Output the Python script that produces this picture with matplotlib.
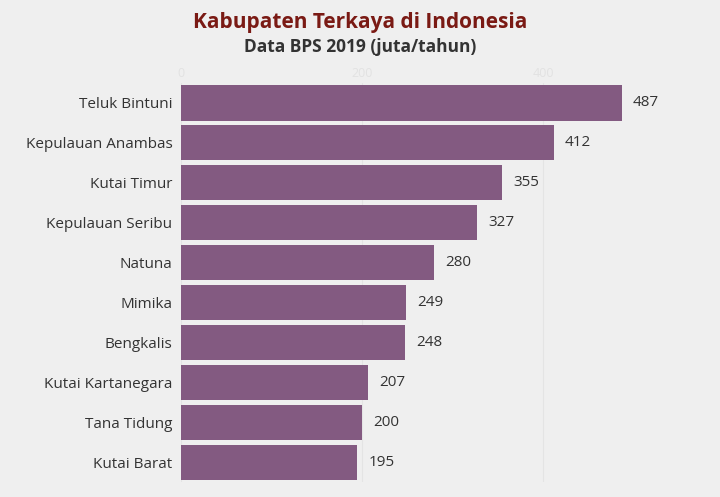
import matplotlib
matplotlib.use("Agg")
import matplotlib.pyplot as plt

categories = ["Teluk Bintuni", "Kepulauan Anambas", "Kutai Timur", "Kepulauan Seribu",
              "Natuna", "Mimika", "Bengkalis", "Kutai Kartanegara", "Tana Tidung", "Kutai Barat"]
values = [487, 412, 355, 327, 280, 249, 248, 207, 200, 195]
ticks = [0, 200, 400]

plt.rcParams['font.family'] = ['Open Sans', 'DejaVu Sans']
bg = "#efefef"
fig = plt.figure(figsize=(7.2, 4.97), dpi=100, facecolor=bg)
ax = fig.add_axes([0.251, 0.03, 0.749, 0.803], facecolor=bg)
y = list(range(len(categories)))
ax.barh(y, values, height=0.88, color="#835a81")
for yi, v in zip(y, values):
    ax.text(v + 12, yi, str(v), va="center", ha="left", fontsize=11, color="#333333")
ax.set_yticks(y)
ax.set_yticklabels(categories, fontsize=11, color="#333333")
ax.set_ylim(len(categories) - 0.5, -0.5)
ax.set_xlim(0, 595)
ax.set_xticks(ticks)
ax.xaxis.tick_top()
ax.tick_params(axis="x", colors="#e2e2e2", labelsize=9, length=0, pad=2)
ax.tick_params(axis="y", length=0, pad=6)
ax.grid(axis="x", color="#e4e4e4", linewidth=0.8)
ax.set_axisbelow(True)
for s in ax.spines.values():
    s.set_visible(False)
fig.text(0.5, 0.955, "Kabupaten Terkaya di Indonesia", ha="center", va="center",
         fontsize=15, fontweight="bold", color="#7a1a14")
fig.text(0.5, 0.905, "Data BPS 2019 (juta/tahun)", ha="center", va="center",
         fontsize=12.5, fontweight="bold", color="#333333")
fig.savefig("out.png", dpi=100, facecolor=bg)
